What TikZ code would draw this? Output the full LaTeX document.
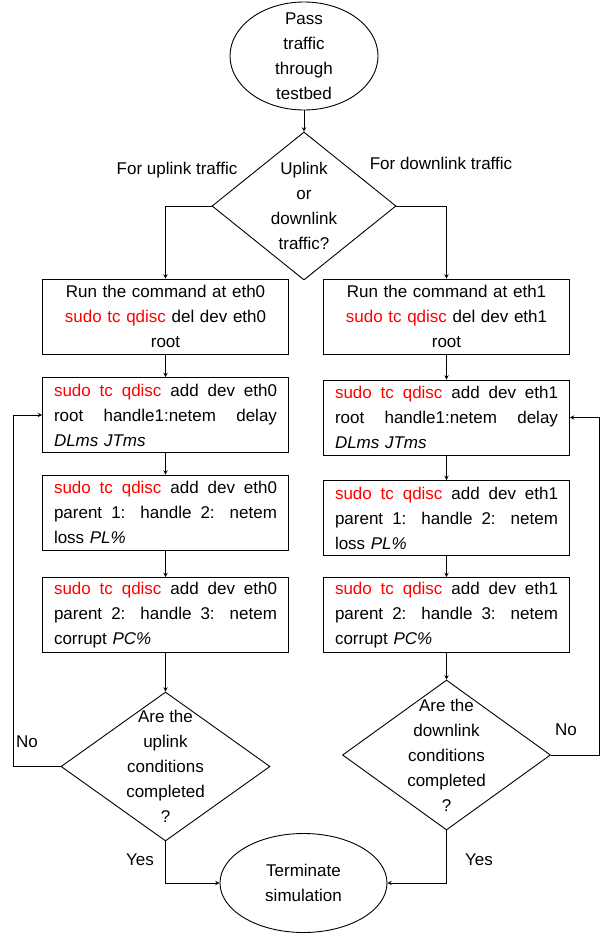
\documentclass[tikz,border=0pt]{standalone}
\usepackage{fontspec}
\setmainfont{Liberation Sans}
\usetikzlibrary{shapes.geometric}
\newcommand{\tcq}{\textcolor{red}{sudo tc qdisc}}
\newcommand{\jline}[1]{{\spaceskip=0pt\xspaceskip=0pt\makebox[223pt][s]{#1}}}

\begin{document}
\begin{tikzpicture}[x=1pt, y=-1pt, >=stealth, line width=0.9pt,
            every node/.style={font=\fontsize{17}{25}\selectfont},
            terminal/.style={draw, ellipse, inner sep=0pt},
            decision/.style={draw, diamond, inner sep=0pt},
            cmdbox/.style={draw, rectangle, minimum width=246pt, minimum height=75pt,
                inner xsep=11.5pt, inner ysep=0pt, text width=223pt, align=left}]
            \useasboundingbox (0,0) rectangle (600,933);

            % Bắt đầu và rẽ nhánh
            \node[terminal, minimum width=148pt, minimum height=108pt] (start) at (304,56) {};
            \node[align=center] (starttxt) at (start) {Pass\\traffic\\through\\testbed};
            \node[decision, minimum width=184pt, minimum height=148pt] (q) at (304,206) {};
            \node[align=center] (qtxt) at (q) {Uplink\\or\\downlink\\traffic?};
            \node (uplbl) at (177,170) {For uplink traffic};
            \node (dnlbl) at (441,163) {For downlink traffic};

            % Nhánh uplink (eth0)
            \node[cmdbox, align=center] (b1l) at (165.5,316.5) {Run the command at eth0\\\tcq{} del dev eth0\\root};
            \node[cmdbox] (b2l) at (165.5,415) {\jline{\tcq{} add dev eth0}\\\jline{root handle1:netem delay}\\\textit{DLms JTms}};
            \node[cmdbox] (b3l) at (165.5,512.5) {\jline{\tcq{} add dev eth0}\\\jline{parent 1: handle 2: netem}\\loss \textit{PL\%}};
            \node[cmdbox] (b4l) at (165.5,615) {\jline{\tcq{} add dev eth0}\\\jline{parent 2: handle 3: netem}\\corrupt \textit{PC\%}};
            \node[decision, minimum width=209pt, minimum height=149pt] (upq) at (165.5,766.5) {};
            \node[align=center] (upqtxt) at (upq) {Are the\\uplink\\conditions\\completed\\?};

            % Nhánh downlink (eth1)
            \node[cmdbox, align=center] (b1r) at (446.5,316.5) {Run the command at eth1\\\tcq{} del dev eth1\\root};
            \node[cmdbox] (b2r) at (446.5,417.5) {\jline{\tcq{} add dev eth1}\\\jline{root handle1:netem delay}\\\textit{DLms JTms}};
            \node[cmdbox] (b3r) at (446.5,518) {\jline{\tcq{} add dev eth1}\\\jline{parent 1: handle 2: netem}\\loss \textit{PL\%}};
            \node[cmdbox] (b4r) at (446.5,615) {\jline{\tcq{} add dev eth1}\\\jline{parent 2: handle 3: netem}\\corrupt \textit{PC\%}};
            \node[decision, minimum width=208pt, minimum height=150pt] (dnq) at (446.5,755) {};
            \node[align=center] (dnqtxt) at (dnq) {Are the\\downlink\\conditions\\completed\\?};

            % Kết thúc
            \node[terminal, minimum width=167pt, minimum height=99pt] (term) at (303.5,883) {};
            \node[align=center] (termtxt) at (term) {Terminate\\simulation};

            \node (nol) at (27,742) {No};
            \node (nor) at (566,730) {No};
            \node (yesl) at (140,860) {Yes};
            \node (yesr) at (479,860) {Yes};
            \coordinate (loopl) at (13,766.5);
            \coordinate (loopr) at (599,755);

            % Mũi tên
            \draw[->] (start.south) -- (q.north);
            \draw[->] (q.west) -| (b1l.north);
            \draw[->] (q.east) -| (b1r.north);
            \draw[->] (b1l) -- (b2l);
            \draw[->] (b2l) -- (b3l);
            \draw[->] (b3l) -- (b4l);
            \draw[->] (b4l) -- (upq);
            \draw[->] (b1r) -- (b2r);
            \draw[->] (b2r) -- (b3r);
            \draw[->] (b3r) -- (b4r);
            \draw[->] (b4r) -- (dnq);
            \draw[->] (upq.west) -- (loopl) |- (b2l.west);
            \draw[->] (dnq.east) -- (loopr) |- (b2r.east);
            \draw[->] (upq.south) |- (term.west);
            \draw[->] (dnq.south) |- (term.east);
        \end{tikzpicture}
\end{document}
